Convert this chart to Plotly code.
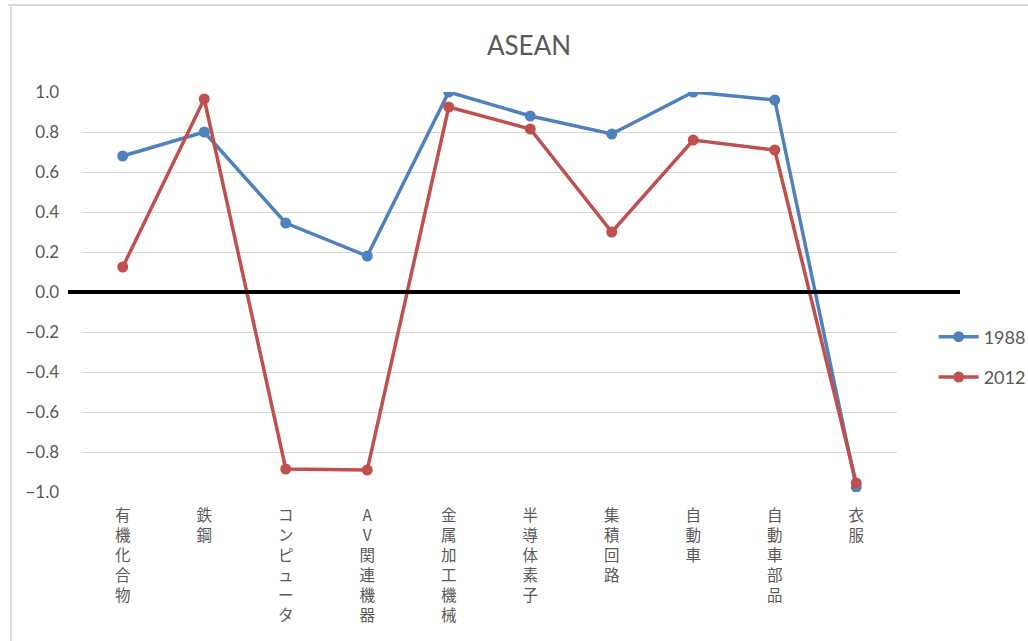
import plotly.graph_objects as go

categories = ["有機化合物", "鉄鋼", "コンピュータ", "AV関連機器", "金属加工機械",
              "半導体素子", "集積回路", "自動車", "自動車部品", "衣服"]
values_1988 = [0.68, 0.80, 0.345, 0.18, 1.00, 0.88, 0.79, 1.00, 0.96, -0.975]
values_2012 = [0.125, 0.965, -0.885, -0.89, 0.925, 0.815, 0.30, 0.76, 0.71, -0.955]
y_ticks = [-1.0, -0.8, -0.6, -0.4, -0.2, 0.0, 0.2, 0.4, 0.6, 0.8, 1.0]

tick_text = ["<br>".join(list(c)) for c in categories]

LAT = "Lato, 'Noto Sans CJK JP', sans-serif"
CJK = "'Noto Sans CJK JP', sans-serif"
GRAY = "#595959"

fig = go.Figure()
fig.add_trace(go.Scatter(x=categories, y=values_1988, name="1988", mode="lines+markers",
                         line=dict(color="#4F81BD", width=3.5),
                         marker=dict(size=11, color="#4F81BD"), legendgroup="a"))
fig.add_trace(go.Scatter(x=categories, y=values_2012, name="2012", mode="lines+markers",
                         line=dict(color="#C0504D", width=3.5),
                         marker=dict(size=11, color="#C0504D"), legendgroup="b"))

fig.update_layout(
    width=1028, height=641,
    margin=dict(l=82, r=131, t=92, b=149, autoexpand=False),
    paper_bgcolor="white", plot_bgcolor="white",
    title=dict(text="ASEAN", x=529 / 1028, xanchor="center", y=1 - 46 / 641, yanchor="middle",
               font=dict(family=LAT, size=26, color=GRAY)),
    legend=dict(x=1.045, y=0.3375, xanchor="left", yanchor="middle",
                font=dict(family=LAT, size=18, color=GRAY),
                traceorder="grouped", tracegroupgap=14, itemwidth=40),
    showlegend=True,
    xaxis=dict(type="category", tickmode="array", tickvals=categories, ticktext=tick_text,
               tickfont=dict(family=CJK, size=15.5, color=GRAY), tickangle=0,
               showgrid=False, zeroline=False, showline=False, ticks="",
               ticklabelstandoff=12, range=[-0.5, 9.5]),
    yaxis=dict(range=[-1, 1], tickvals=y_ticks, tickformat=".1f",
               tickfont=dict(family=LAT, size=17, color=GRAY),
               showgrid=True, gridcolor="#D9D9D9", gridwidth=1,
               zeroline=False, showline=False, ticks="", ticklabelstandoff=22),
)

# thick black zero line extending past plot area
fig.add_shape(type="line", xref="paper", yref="y", x0=(68 - 82) / 815, x1=(960 - 82) / 815,
              y0=0, y1=0, line=dict(color="black", width=4), layer="above")
# window borders
fig.add_shape(type="line", xref="paper", yref="paper", x0=(8 - 82) / 815, x1=(1028 - 82) / 815,
              y0=1 + (92 - 5) / 400, y1=1 + (92 - 5) / 400, line=dict(color="#D9D9D9", width=2))
fig.add_shape(type="line", xref="paper", yref="paper", x0=(11 - 82) / 815, x1=(11 - 82) / 815,
              y0=1 + (92 - 7) / 400, y1=-(641 - 492) / 400, line=dict(color="#D9D9D9", width=2))

fig.write_html("out.html")
